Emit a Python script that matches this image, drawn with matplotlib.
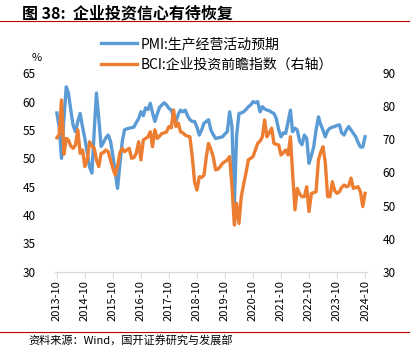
import matplotlib.pyplot as plt
import matplotlib.dates as mdates
import pandas as pd

plt.rcParams['font.family'] = ['Noto Sans CJK SC', 'DejaVu Sans']

# monthly, 2013-10 .. 2024-10
months = pd.date_range("2013-10-01", "2024-10-01", freq="MS")

pmi_expect = [
    58.0, 55.5, 50.0, 57.0, 62.6, 61.5, 58.5, 55.8, 54.7, 56.5, 57.9, 55.5,
    53.5, 51.0, 48.5, 47.4, 55.0, 61.5, 57.0, 52.1, 52.8, 53.6, 54.1, 53.0,
    50.5, 47.5, 44.7, 49.0, 53.0, 55.0, 55.2, 55.3, 55.4, 55.5, 56.3, 57.0,
    58.2, 57.5, 58.9, 58.6, 59.7, 58.0, 56.5, 57.8, 59.0, 59.4, 59.8, 59.4,
    58.8, 58.5, 57.2, 56.5, 57.8, 58.5, 58.2, 58.5, 57.5, 56.8, 56.5, 56.5,
    55.5, 54.1, 55.0, 56.2, 56.5, 56.8, 55.0, 54.2, 53.5, 53.6, 53.7, 53.8,
    54.3, 54.7, 58.2, 55.6, 42.0, 54.0, 57.9, 58.0, 58.2, 58.6, 59.1, 59.4,
    60.0, 59.8, 60.0, 58.2, 59.1, 58.7, 58.5, 58.4, 58.1, 57.9, 57.0, 55.0,
    53.8, 54.5, 54.4, 56.5, 58.5, 54.7, 55.3, 55.0, 53.0, 52.4, 54.1, 53.5,
    49.1, 50.5, 52.0, 55.0, 57.3, 56.0, 55.0, 53.8, 54.9, 55.3, 55.5, 55.6,
    55.8, 55.9, 54.5, 54.1, 55.0, 55.6, 55.0, 54.4, 53.8, 52.8, 52.0, 52.0,
    53.8,
]

bci_invest = [
    70.5, 71.5, 81.9, 65.5, 70.3, 69.8, 68.0, 67.3, 68.3, 72.9, 65.8, 66.8,
    61.8, 63.8, 69.3, 68.0, 67.3, 63.8, 61.8, 65.8, 66.0, 66.8, 66.3, 63.8,
    61.3, 59.2, 61.8, 66.0, 67.3, 66.3, 66.8, 67.3, 64.3, 64.5, 65.8, 69.3,
    63.8, 69.8, 70.3, 70.8, 72.3, 67.8, 72.9, 70.3, 71.0, 71.8, 72.0, 72.3,
    73.9, 73.5, 78.9, 73.9, 74.9, 72.3, 72.0, 71.3, 71.0, 70.8, 64.8, 57.0,
    54.7, 58.7, 58.5, 59.2, 64.8, 68.8, 67.0, 64.8, 60.8, 61.0, 61.8, 62.8,
    63.3, 63.8, 64.8, 55.7, 44.1, 50.7, 44.6, 52.7, 56.5, 59.8, 63.8, 64.3,
    64.8, 66.8, 68.8, 69.5, 70.8, 75.9, 70.8, 72.0, 73.4, 68.8, 68.5, 68.3,
    65.3, 66.0, 66.8, 65.3, 70.8, 59.8, 48.7, 55.2, 53.5, 52.7, 52.7, 55.7,
    48.2, 53.7, 53.9, 54.2, 63.8, 66.0, 67.8, 63.0, 52.7, 52.7, 57.2, 54.5,
    53.7, 54.2, 55.5, 56.2, 55.7, 56.0, 58.3, 55.2, 55.5, 55.7, 54.2, 49.7,
    53.7,
]

blue = "#5B9BD5"
orange = "#ED7D31"

fig = plt.figure(figsize=(4.13, 3.59), dpi=100)
ax = fig.add_axes([0.133, 0.243, 0.756, 0.553])
ax2 = ax.twinx()

l1, = ax.plot(months, pmi_expect, color=blue, lw=2.4, label="PMI:生产经营活动预期")
l2, = ax2.plot(months, bci_invest, color=orange, lw=2.4, label="BCI:企业投资前瞻指数（右轴）")

ax.set_ylim(30, 65)
ax.set_yticks(range(30, 66, 5))
ax2.set_ylim(30, 90)
ax2.set_yticks(range(30, 91, 10))
ax.set_xlim(pd.Timestamp("2013-09-06"), pd.Timestamp("2024-10-28"))

ticks = pd.date_range("2013-10-01", "2024-10-01", freq="12MS")
ax.set_xticks(ticks)
ax.xaxis.set_major_formatter(mdates.DateFormatter("%Y-%m"))
for lab in ax.get_xticklabels():
    lab.set_rotation(90)

for a in (ax, ax2):
    for s in ("top", "left", "right"):
        a.spines[s].set_visible(False)
    a.spines["bottom"].set_color("#D9D9D9")
ax.tick_params(axis="x", length=4, color="#D9D9D9", labelsize=8, pad=2)
ax.tick_params(axis="y", length=0, labelsize=8.5, pad=14)
ax2.tick_params(axis="y", length=0, labelsize=8.5, pad=11)

ax.text(-0.06, 1.06, "%", transform=ax.transAxes, fontsize=8, ha="center")

fig.legend(handles=[l1, l2], loc="upper left", bbox_to_anchor=(0.232, 0.912),
           frameon=False, fontsize=10, handlelength=2.6, handletextpad=0.25,
           labelspacing=0.5, borderaxespad=0)

fig.text(0.053, 0.962, "图 38:  企业投资信心有待恢复", fontsize=11.5, fontweight="bold",
         va="center")
fig.add_artist(plt.Line2D([0, 0.99], [0.942, 0.942], color="#C00000", lw=0.8))
fig.add_artist(plt.Line2D([0, 0.99], [0.076, 0.076], color="#C00000", lw=0.8))
fig.text(0.07, 0.052, "资料来源：Wind，国开证券研究与发展部", fontsize=8, va="center")

fig.savefig("out.png", dpi=100)
